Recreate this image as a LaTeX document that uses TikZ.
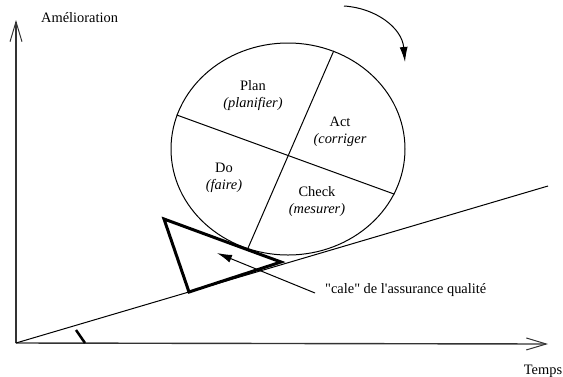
\documentclass[tikz,border=0pt]{standalone}
\usepackage{fontspec}
\setmainfont{Liberation Serif}
\usetikzlibrary{arrows.meta,shapes.geometric}

\begin{document}
\begin{tikzpicture}[x=1pt, y=-1pt, font=\fontsize{14.4}{17}\selectfont,
      axis/.style={line width=1.4pt, black!80, -{Straight Barb[length=20pt,width=12pt,line width=1pt]}},
      thin/.style={line width=1pt},
      wedge/.style={line width=3pt, line join=miter},
      arr/.style={line width=1pt, -{Latex[length=15pt,width=8pt]}},
      lbl/.style={align=center, inner sep=0pt}]
    \useasboundingbox (0,0) rectangle (563,376);
    % axes
    \coordinate (origin) at (16,343);
    \coordinate (ytip) at (16,20);
    \coordinate (xtip) at (548,344);
    \draw[axis] (origin) -- (ytip);
    \draw[axis] (origin) -- (xtip);
    \node[anchor=west, inner sep=0pt] (ylabel) at (41,18) {Amélioration};
    \node[inner sep=0pt] (xlabel) at (543,371) {Temps};
    % slope and angle mark
    \coordinate (slopeend) at (548,186);
    \draw[thin] (origin) -- (slopeend);
    \coordinate (tk1) at (76,330);
    \coordinate (tk2) at (85,343);
    \draw[line width=2.5pt] (tk1) -- (tk2);
    % PDCA wheel
    \node[ellipse, draw, line width=1pt, minimum width=234pt, minimum height=212pt, inner sep=0pt] (wheel) at (288,149) {};
    \draw[thin] (wheel.163) -- (wheel.337);
    \draw[thin] (wheel.65) -- (wheel.248);
    \node[lbl] (plan) at (253,96) {Plan\\\textit{(planifier)}};
    \node[lbl] (act) at (340,132) {Act\\\textit{(corriger}};
    \node[lbl] (do) at (224,178) {Do\\\textit{(faire)}};
    \node[lbl] (check) at (317,202) {Check\\\textit{(mesurer)}};
    % rotation arrow
    \coordinate (turnstart) at (344,6);
    \coordinate (turnend) at (405,62);
    \draw[arr] (turnstart) .. controls (376,8) and (402,28) .. (turnend);
    % quality wedge
    \coordinate (w1) at (164,219);
    \coordinate (w2) at (281,262);
    \coordinate (w3) at (189,292);
    \draw[wedge] (w1) -- (w2) -- (w3) -- cycle;
    \node[anchor=west, inner sep=0pt] (calelabel) at (325,290) {\textquotedbl cale\textquotedbl{} de l\textquotesingle assurance qualité};
    \coordinate (caletail) at (315,293);
    \coordinate (caletip) at (217,253);
    \draw[arr] (caletail) -- (caletip);
  \end{tikzpicture}
\end{document}
